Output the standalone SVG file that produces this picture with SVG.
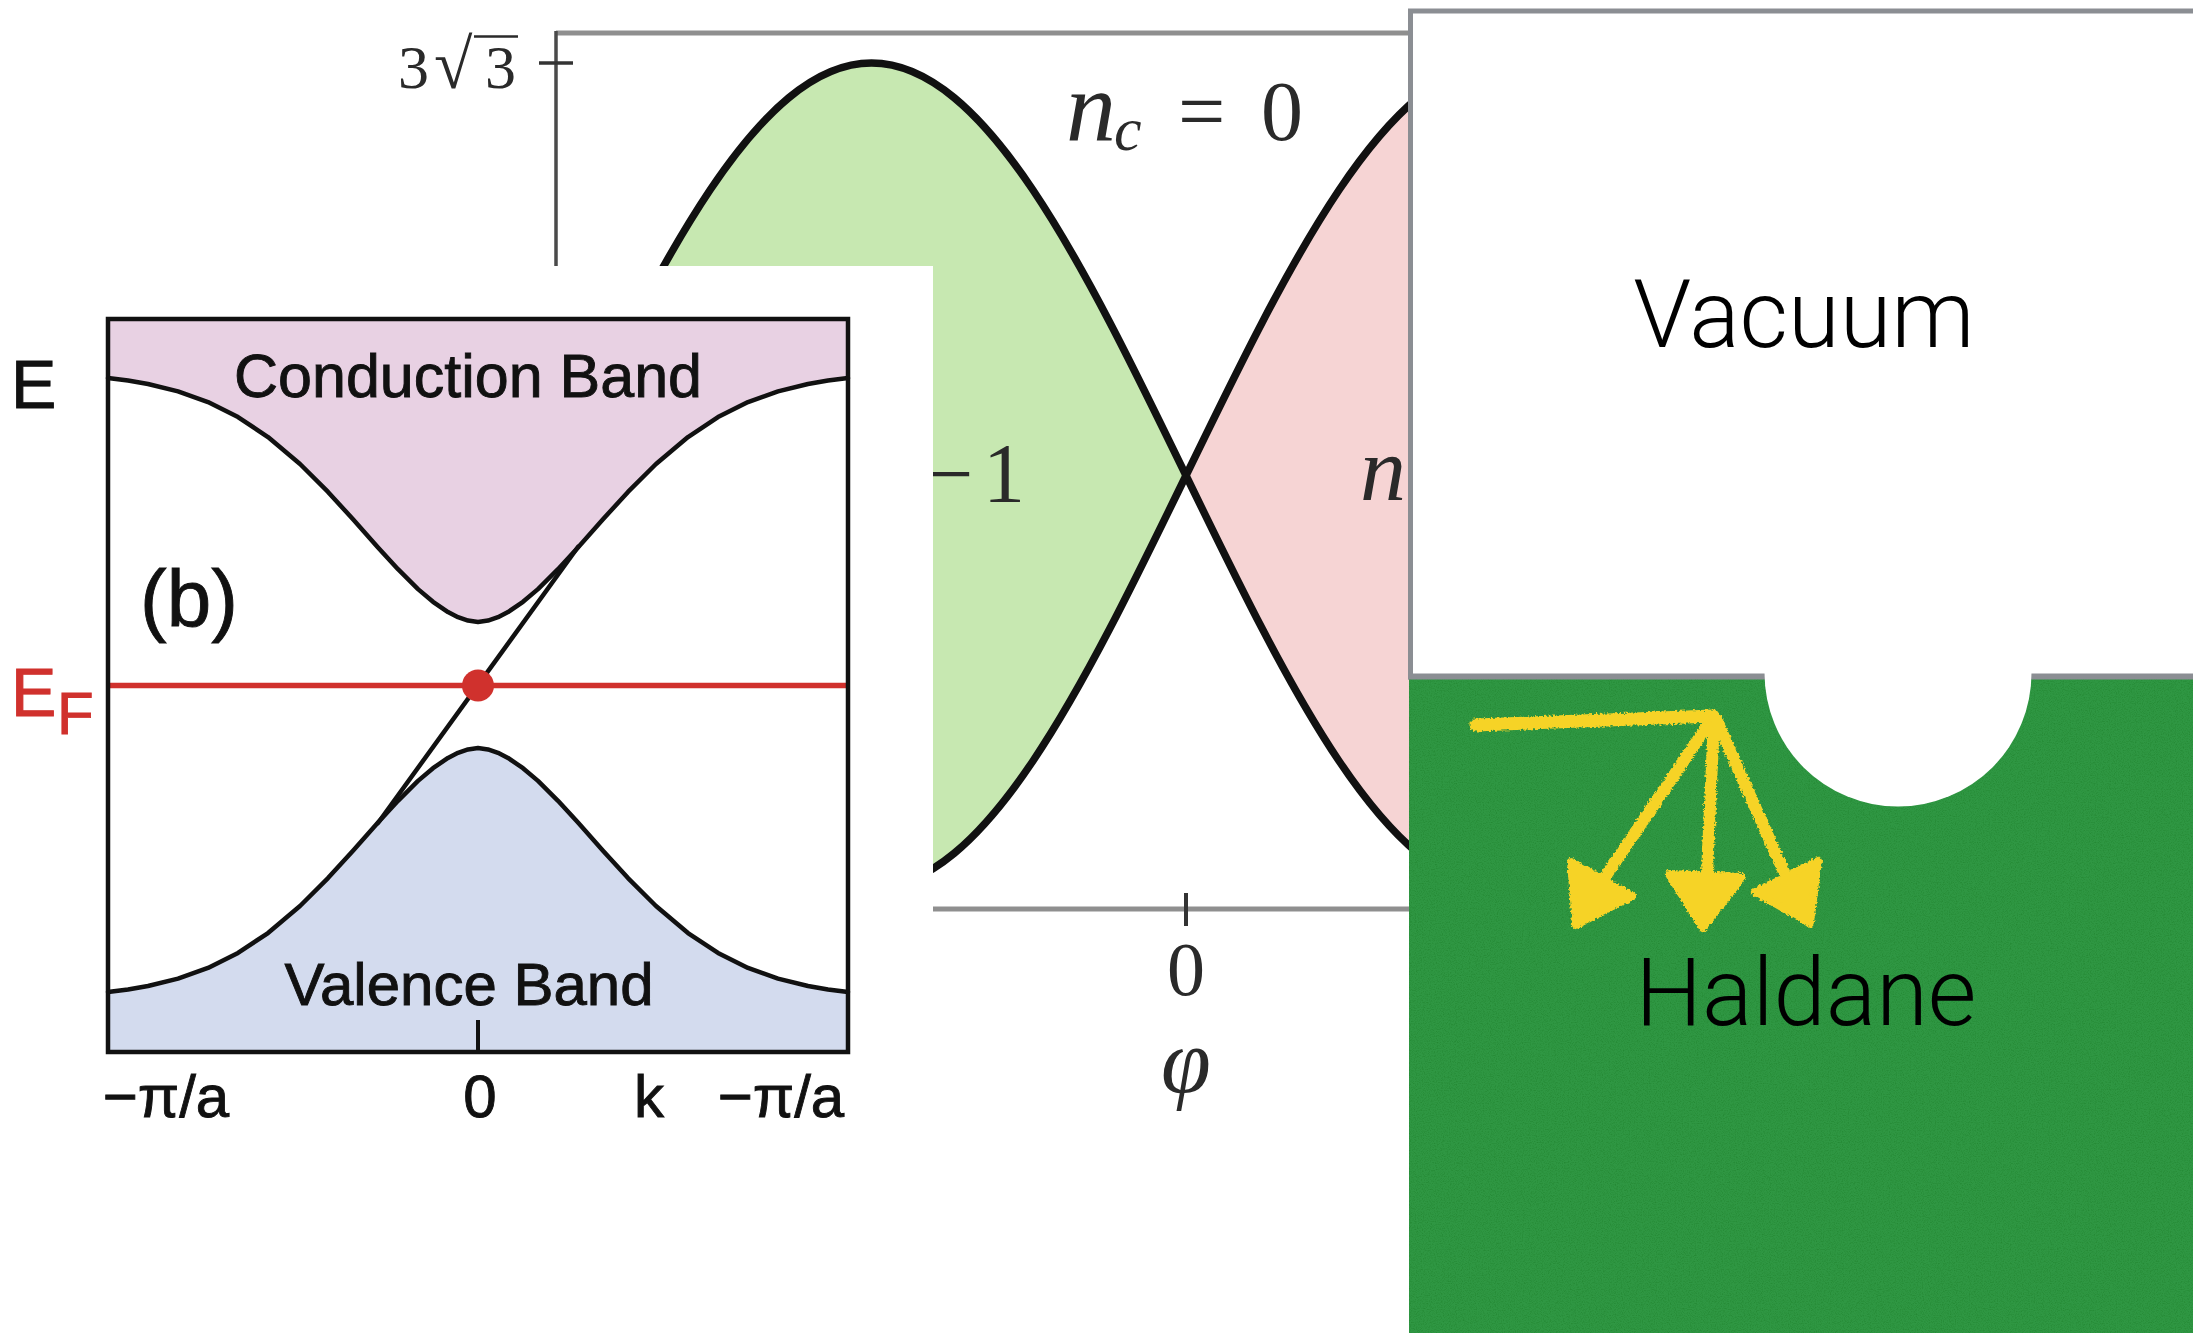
<svg xmlns="http://www.w3.org/2000/svg" width="2193" height="1333" viewBox="0 0 2193 1333">
<style>
.serif{font-family:"Liberation Serif","Times New Roman",serif;fill:#2a2a2a}
.sans{font-family:"Liberation Sans",Arial,Helvetica,sans-serif;fill:#111;stroke:#111;stroke-width:0.9}
.light{font-family:Roboto,"Liberation Sans",Arial,sans-serif;font-weight:300;fill:#000}
.curve{fill:none;stroke:#111;stroke-width:7.5;stroke-linejoin:round}
.bcurve{fill:none;stroke:#111;stroke-width:4.5;stroke-linejoin:round;stroke-linecap:round}
.chalk{stroke:#f6d327;fill:#f6d327;stroke-linecap:round;stroke-linejoin:round}
</style>
<defs>
<filter id="grain" x="0" y="0" width="100%" height="100%">
<feTurbulence type="fractalNoise" baseFrequency="0.85" numOctaves="2" seed="5"/>
<feColorMatrix type="matrix" values="0 0 0 0 0  0 0 0 0 0.1  0 0 0 0 0  0 0 0 0.5 -0.21"/>
</filter>
<filter id="rough" x="-10%" y="-10%" width="120%" height="120%">
<feTurbulence type="fractalNoise" baseFrequency="0.45" numOctaves="2" seed="3" result="n"/>
<feDisplacementMap in="SourceGraphic" in2="n" scale="5" xChannelSelector="R" yChannelSelector="G"/>
</filter>
</defs>
<rect width="2193" height="1333" fill="#fff"/>

<g id="phase-diagram">
<path d="M557,475.5 C659.6,264.2 757.7,63 871.5,63 C985.3,63 1083.4,264.2 1186,475.5 C1083.4,686.8 985.3,888 871.5,888 C757.7,888 659.6,686.8 557,475.5 Z" fill="#c7e8b1"/>
<path d="M1186,475.5 C1288.6,264.2 1386.7,63 1500.5,63 L1500.5,888 C1386.7,888 1288.6,686.8 1186,475.5 Z" fill="#f6d4d4"/>
<path class="curve" d="M557,475.5 C659.6,264.2 757.7,63 871.5,63 C985.3,63 1083.4,264.2 1186,475.5 C1288.6,686.8 1386.7,888 1500.5,888"/>
<path class="curve" d="M557,475.5 C659.6,686.8 757.7,888 871.5,888 C985.3,888 1083.4,686.8 1186,475.5 C1288.6,264.2 1386.7,63 1500.5,63"/>
<line x1="556" y1="33" x2="1412" y2="33" stroke="#8f8f8f" stroke-width="5"/>
<line x1="556" y1="31" x2="556" y2="300" stroke="#4a4a4a" stroke-width="3.5"/>
<line x1="539" y1="63" x2="573" y2="63" stroke="#333" stroke-width="3.5"/>
<line x1="900" y1="909" x2="1412" y2="909" stroke="#8f8f8f" stroke-width="5"/>
<line x1="1186" y1="893" x2="1186" y2="926" stroke="#333" stroke-width="4"/>
<text class="serif" y="88" font-size="62"><tspan x="398">3</tspan><tspan x="434" font-size="70">√</tspan><tspan x="485">3</tspan></text>
<line x1="474" y1="36.5" x2="518" y2="36.5" stroke="#2a2a2a" stroke-width="2.5"/>
<text class="serif" y="140" font-size="84"><tspan x="1066" font-style="italic" font-size="100">n</tspan><tspan x="1114" dy="10" font-style="italic" font-size="62">c</tspan><tspan x="1178" dy="-10">=</tspan><tspan x="1261">0</tspan></text>
<text class="serif" y="502" font-size="84"><tspan x="926">−</tspan><tspan x="983">1</tspan></text>
<text class="serif" x="1360" y="500" font-size="92" font-style="italic">n</text>
<text class="serif" x="1186" y="995" font-size="76" text-anchor="middle">0</text>
<text class="serif" x="1186" y="1092" font-size="90" font-style="italic" text-anchor="middle">φ</text>
</g>

<g id="band-structure">
<rect x="0" y="266" width="933" height="1067" fill="#fff"/>
<path d="M108,319 L108,378 L128,380.5 L148,384 L178,391.4 L208,402.1 L238,417.1 L268,437 L300,464 L328,491.9 L353,519.3 L378,547.4 L398,569.2 L418,589.1 L433,601.8 L448,612.1 L458,617.2 L468,620.6 L478,622 L488,620.6 L498,617.2 L508,612.1 L523,601.8 L538,589.1 L558,569.2 L578,547.4 L603,519.3 L628,491.9 L656,464 L688,437 L718,417.1 L748,402.1 L778,391.4 L808,384 L828,380.5 L848,378 L848,319 Z" fill="#e8d1e3"/>
<path d="M108,1052 L108,992 L128,989.5 L148,986 L178,978.6 L208,967.9 L238,952.9 L268,933 L300,906 L328,878.1 L353,850.7 L378,822.6 L398,800.8 L418,780.9 L433,768.2 L448,757.9 L458,752.8 L468,749.4 L478,748 L488,749.4 L498,752.8 L508,757.9 L523,768.2 L538,780.9 L558,800.8 L578,822.6 L603,850.7 L628,878.1 L656,906 L688,933 L718,952.9 L748,967.9 L778,978.6 L808,986 L828,989.5 L848,992 L848,1052 Z" fill="#d3dbee"/>
<path class="bcurve" d="M108,378 L128,380.5 L148,384 L178,391.4 L208,402.1 L238,417.1 L268,437 L300,464 L328,491.9 L353,519.3 L378,547.4 L398,569.2 L418,589.1 L433,601.8 L448,612.1 L458,617.2 L468,620.6 L478,622 L488,620.6 L498,617.2 L508,612.1 L523,601.8 L538,589.1 L558,569.2 L578,547.4 L603,519.3 L628,491.9 L656,464 L688,437 L718,417.1 L748,402.1 L778,391.4 L808,384 L828,380.5 L848,378"/>
<path class="bcurve" d="M108,992 L128,989.5 L148,986 L178,978.6 L208,967.9 L238,952.9 L268,933 L300,906 L328,878.1 L353,850.7 L378,822.6 L398,800.8 L418,780.9 L433,768.2 L448,757.9 L458,752.8 L468,749.4 L478,748 L488,749.4 L498,752.8 L508,757.9 L523,768.2 L538,780.9 L558,800.8 L578,822.6 L603,850.7 L628,878.1 L656,906 L688,933 L718,952.9 L748,967.9 L778,978.6 L808,986 L828,989.5 L848,992"/>
<line class="bcurve" x1="378" y1="823" x2="578" y2="547"/>
<line x1="108" y1="685.5" x2="848" y2="685.5" stroke="#d0312d" stroke-width="5.5"/>
<circle cx="478" cy="685.5" r="16" fill="#d0312d"/>
<rect x="108" y="319" width="740" height="733" fill="none" stroke="#111" stroke-width="4.5"/>
<line x1="478" y1="1020" x2="478" y2="1052" stroke="#111" stroke-width="4"/>
<text class="sans" x="468" y="397" font-size="61" text-anchor="middle">Conduction Band</text>
<text class="sans" x="469" y="1005" font-size="60" text-anchor="middle">Valence Band</text>
<text class="sans" x="140" y="626" font-size="80">(b)</text>
<text class="sans" x="11" y="408" font-size="68">E</text>
<text class="sans" y="716" font-size="68" style="fill:#d0312d;stroke:#d0312d"><tspan x="11">E</tspan><tspan x="57" dy="18" font-size="60">F</tspan></text>
<text class="sans" x="166" y="1117" font-size="60" text-anchor="middle">−π/a</text>
<text class="sans" x="480" y="1117" font-size="60" text-anchor="middle">0</text>
<text class="sans" x="649" y="1117" font-size="60" text-anchor="middle">k</text>
<text class="sans" x="781" y="1117" font-size="60" text-anchor="middle">−π/a</text>
</g>

<g id="vacuum">
<rect x="1410.5" y="11" width="790" height="666" fill="#fff" stroke="#8b8e93" stroke-width="5"/>
<text class="light" x="1804" y="347" font-size="94" text-anchor="middle">Vacuum</text>
</g>

<g id="haldane">
<rect x="1409" y="679" width="784" height="654" fill="#2f9743"/>
<rect x="1409" y="679" width="784" height="654" fill="#000" filter="url(#grain)"/>
<line x1="1408" y1="676.5" x2="1765" y2="676.5" stroke="#8b8e93" stroke-width="6"/>
<line x1="2031" y1="676.5" x2="2193" y2="676.5" stroke="#8b8e93" stroke-width="6"/>
<path d="M1764.5,673 A133.5,133.5 0 0 0 2031.5,673 Z" fill="#fff"/>
<text class="light" x="1806" y="1025" font-size="94" text-anchor="middle">Haldane</text>
</g>

<g id="connectors" filter="url(#rough)">
<line class="chalk" x1="1476" y1="725" x2="1713" y2="716" stroke-width="13"/>
<line class="chalk" x1="1712" y1="719" x2="1605" y2="877" stroke-width="12"/>
<line class="chalk" x1="1714" y1="719" x2="1707" y2="874" stroke-width="12"/>
<line class="chalk" x1="1716" y1="719" x2="1784" y2="872" stroke-width="12"/>
<polygon class="chalk" points="1571,862 1632,896 1576,925" stroke-width="8"/>
<polygon class="chalk" points="1669,874 1742,877 1703,928" stroke-width="8"/>
<polygon class="chalk" points="1755,892 1818,861 1810,923" stroke-width="8"/>
</g>
</svg>
